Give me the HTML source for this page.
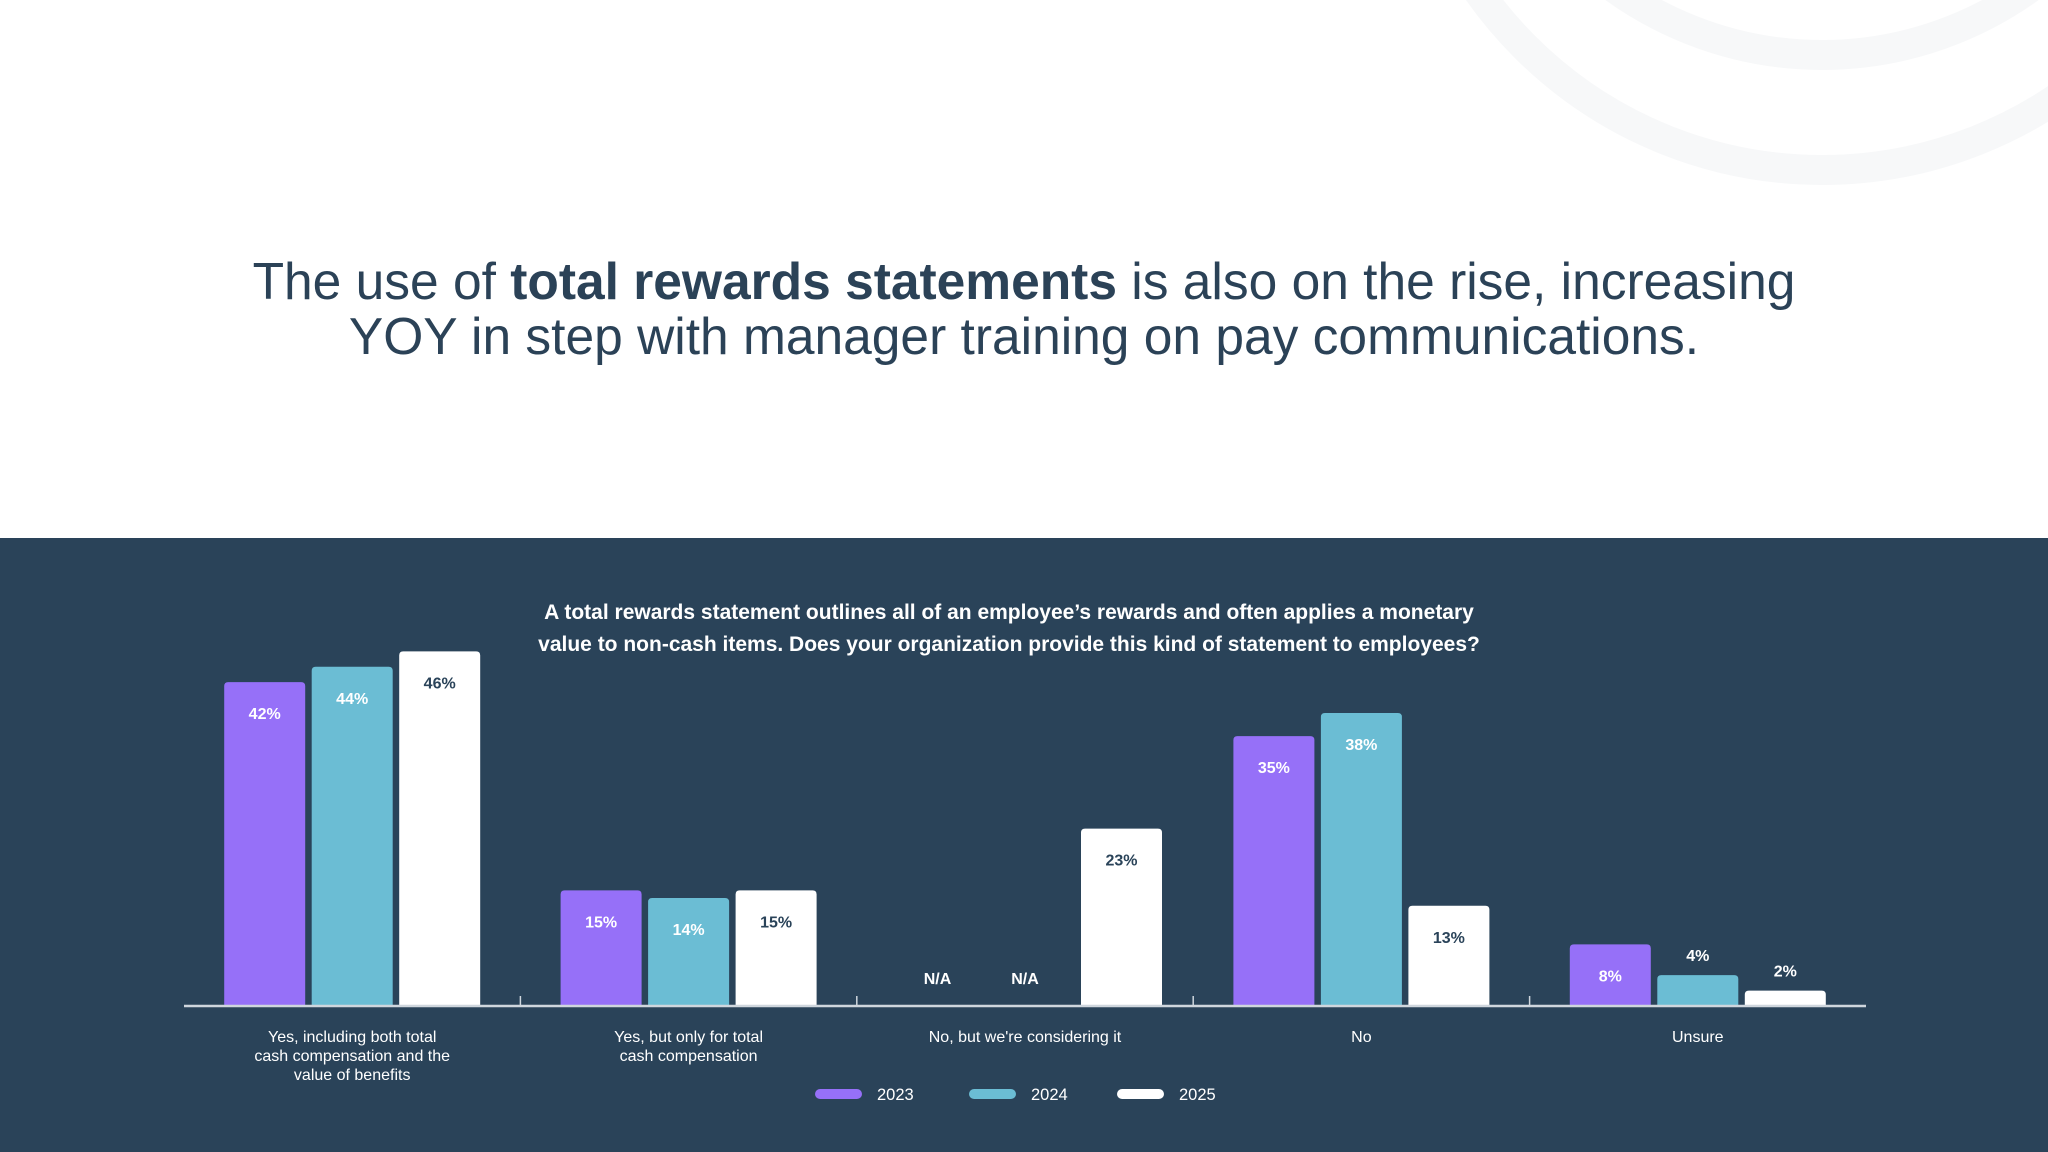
<!DOCTYPE html>
<html><head><meta charset="utf-8"><style>
html,body{margin:0;padding:0;width:2048px;height:1152px;overflow:hidden;background:#fff;font-family:"Liberation Sans",sans-serif}
</style></head><body>
<svg id="root" width="2048" height="1152" viewBox="0 0 2048 1152" xmlns="http://www.w3.org/2000/svg" font-family="Liberation Sans, sans-serif">
<g fill="none" stroke="#f7f8f9" stroke-width="30">
<circle cx="1822" cy="-250" r="420"/>
<circle cx="1822" cy="-300" r="355"/>
</g>
<text x="1024" y="299" text-anchor="middle" font-size="51.5" fill="#2b4257">The use of <tspan font-weight="bold">total rewards statements</tspan> is also on the rise, increasing</text>
<text x="1024" y="354" text-anchor="middle" font-size="51.5" fill="#2b4257">YOY in step with manager training on pay communications.</text>
<rect x="0" y="538" width="2048" height="614" fill="#2a4359"/>
<text x="1009" y="619" text-anchor="middle" font-size="21" font-weight="bold" fill="#fff">A total rewards statement outlines all of an employee’s rewards and often applies a monetary</text>
<text x="1009" y="651" text-anchor="middle" font-size="21" font-weight="bold" fill="#fff">value to non-cash items. Does your organization provide this kind of statement to employees?</text>
<g id="plot"></g>
</svg>
<script>
const categories = [["Yes, including both total","cash compensation and the","value of benefits"],["Yes, but only for total","cash compensation"],["No, but we're considering it"],["No"],["Unsure"]];
const seriesNames = ["2023","2024","2025"];
const values2023 = [42, 15, null, 35, 8];
const values2024 = [44, 14, null, 38, 4];
const values2025 = [46, 15, 23, 13, 2];

const colors = ["#9670f8","#6bbdd4","#ffffff"];
const labelColors = ["#ffffff","#ffffff","#2a4359"];
const series = [values2023, values2024, values2025];
const ns = "http://www.w3.org/2000/svg";
const plot = document.getElementById('plot');
const x0 = 184, x1 = 1866, baseY = 1006, pxPer = 7.71;
const band = (x1 - x0) / categories.length;
const barW = 81, step = 87.5;
function xCenter(i){ return x0 + band*(i+0.5); }
function yScale(v){ return baseY - v*pxPer; }
function mk(tag, attrs){ const e=document.createElementNS(ns,tag); for(const k in attrs) e.setAttribute(k,attrs[k]); plot.appendChild(e); return e; }

categories.forEach((cat,i)=>{
  series.forEach((vals,s)=>{
    let cx = xCenter(i) + (s-1)*step;
    const v = vals[i];
    if(v===null){
      const t = mk('text',{x:cx,y:baseY-22,'text-anchor':'middle','font-size':16,'font-weight':'bold',fill:'#ffffff'});
      
      
      t.textContent='N/A';
      return;
    }
    if(vals[i]!==null && series.some(sv=>sv[i]===null)) cx += 9;
    const top = yScale(v);
    const r = mk('path',{d:`M${cx-barW/2},${baseY} V${top+4} Q${cx-barW/2},${top} ${cx-barW/2+4},${top} H${cx+barW/2-4} Q${cx+barW/2},${top} ${cx+barW/2},${top+4} V${baseY} Z`,fill:colors[s]});
    
    
    const inside = v >= 5;
    const t = mk('text',{x:cx,y: inside ? top+37 : top-14,'text-anchor':'middle','font-size':16,'font-weight':'bold',fill: inside ? labelColors[s] : '#ffffff'});
    
    
    t.textContent = v + '%';
  });
  cat.forEach((line,j)=>{
    const t = mk('text',{x:xCenter(i),y:1042+j*19,'text-anchor':'middle','font-size':16,fill:'#ffffff'});
    
    
    t.textContent = line;
  });
  if(i>0){
    const tk = mk('line',{x1:x0+band*i,x2:x0+band*i,y1:baseY-10,y2:baseY,stroke:'#cfd6dd','stroke-width':1.5});
    
    
  }
});
const ax = mk('line',{x1:x0,x2:x1,y1:baseY,y2:baseY,stroke:'#cfd6dd','stroke-width':2.5});



const legX = [815, 969, 1117];
seriesNames.forEach((n,s)=>{
  const sw = mk('rect',{x:legX[s],y:1089,width:47,height:10,rx:5,fill:colors[s]});
  
  
  const t = mk('text',{x:legX[s]+62,y:1100,'font-size':16.5,fill:'#ffffff'});
  
  
  t.textContent = n;
});
</script>
</body></html>
